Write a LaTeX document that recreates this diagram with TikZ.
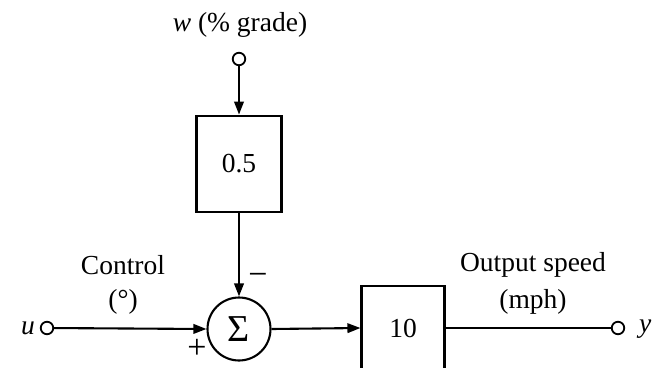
\documentclass[tikz,border=0pt]{standalone}
\usepackage{fontspec}
\setmainfont{Liberation Serif}
\usetikzlibrary{arrows.meta}
\begin{document}
\begin{tikzpicture}[x=1pt,y=-1pt,
  line width=2.1pt,
  txt/.style={font=\fontsize{27.5}{31}\selectfont, inner sep=0pt},
  sgn/.style={font=\fontsize{34}{38}\selectfont, inner sep=0pt},
  term/.style={circle, draw, fill=white, minimum size=12.5pt, inner sep=0pt, line width=1.8pt},
  blk/.style={draw, inner sep=0pt},
  sumnode/.style={circle, draw, minimum size=63pt, inner sep=0pt, font=\fontsize{38}{42}\selectfont},
  sig/.style={-{Triangle[length=13pt,width=9.5pt]}}
]
\useasboundingbox (0,0) rectangle (653,367);
\clip (0,0) rectangle (653,367);
% nodes
\node[txt] (wlab) at (240,25) {\textit{w} (\% grade)};
\node[term] (w) at (239,59) {};
\node[blk, line width=2.8pt, minimum width=85pt, minimum height=96pt, txt] (k1) at (239,164) {0.5};
\node[sumnode] (s) at (239,329) {Σ};
\node[term] (u) at (47,328) {};
\node[txt, anchor=east] (ulab) at (36,328) {\textit{u}};
\node[blk, minimum width=83pt, minimum height=84pt, txt] (k2) at (403,328) {10};
\node[term] (y) at (618,328) {};
\node[txt, anchor=west] (ylab) at (638,329) {\textit{y}};
\node[txt] (c1) at (123,265) {Control};
\node[txt] (c2) at (123,302) {(\textdegree)};
\node[txt] (o1) at (533,265) {Output speed};
\node[txt] (o2) at (533,302) {(mph)};
\node[sgn] (minus) at (258,279) {−};
\node[sgn] (plus) at (197,349) {+};
% connectors
\draw[sig] (w) -- (k1.north);
\draw[sig] (k1.south) -- (s.north);
\draw[sig] (u) -- (s.west);
\draw[sig] (s.east) -- (k2.west);
\draw (k2.east) -- (y);
\end{tikzpicture}
\end{document}
